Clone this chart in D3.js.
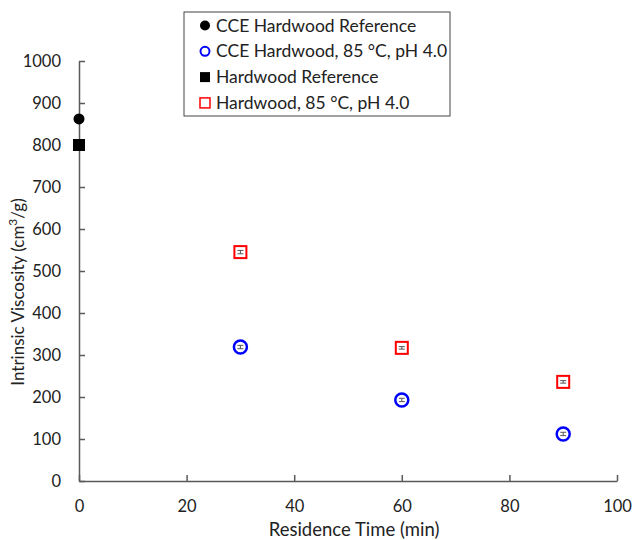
<!DOCTYPE html>
<html>
<head>
<meta charset="utf-8">
<script src="https://cdn.jsdelivr.net/npm/d3@7"></script>
<style>
  body { margin: 0; background: #fff; }
  svg text { font-family: Lato, "Open Sans", sans-serif; fill: #222; }
</style>
</head>
<body>
<svg width="634" height="540"></svg>
<script>
// data
const cceRefTime = [0];
const cceRefVisc = [862];
const hwRefTime = [0];
const hwRefVisc = [800];
const cceTime = [30, 60, 90];
const cceVisc = [319, 193, 112];
const cceErr = [4, 4, 4];
const hwTime = [30, 60, 90];
const hwVisc = [545, 317, 236];
const hwErr = [4, 3, 3];
const xTicks = [0, 20, 40, 60, 80, 100];
const yTicks = [0, 100, 200, 300, 400, 500, 600, 700, 800, 900, 1000];

const svg = d3.select("svg");
const axisColor = "#595959";

const x = d3.scaleLinear().domain([0, 100]).range([79, 617]);
const y = d3.scaleLinear().domain([0, 1000]).range([481, 61]);

// axes, ticks pointing inward
const xAxis = svg.append("g")
    .attr("transform", `translate(0,${y(0)})`)
    .call(d3.axisBottom(x).tickValues(xTicks).tickFormat(d3.format("d"))
        .tickSizeInner(-6).tickSizeOuter(0).tickPadding(19));
const yAxis = svg.append("g")
    .attr("transform", `translate(${x(0)},0)`)
    .call(d3.axisLeft(y).tickValues(yTicks).tickFormat(d3.format("d"))
        .tickSizeInner(-6).tickSizeOuter(0).tickPadding(18));

[xAxis, yAxis].forEach(a => {
    a.select(".domain").attr("stroke", axisColor).attr("stroke-width", 1.5);
    a.selectAll(".tick line").attr("stroke", axisColor).attr("stroke-width", 1.5);
    a.selectAll(".tick text").attr("font-size", 16.5).attr("font-family", "Lato, sans-serif").attr("fill", "#222");
});

svg.append("text")
    .attr("x", (x(0) + x(100)) / 2 + 6)
    .attr("y", 536)
    .attr("text-anchor", "middle")
    .attr("font-size", 18.5)
    .text("Residence Time (min)");

svg.append("text")
    .attr("transform", `translate(24,292) rotate(-90)`)
    .attr("text-anchor", "middle")
    .attr("font-size", 17)
    .html('Intrinsic Viscosity (cm<tspan baseline-shift="super" font-size="12">3</tspan>/g)');

// error bars (tiny)
function errBars(times, vals, errs) {
    const g = svg.append("g").attr("stroke", "#555").attr("stroke-width", 1);
    times.forEach((t, i) => {
        const cx = x(t);
        g.append("line").attr("x1", cx).attr("x2", cx).attr("y1", y(vals[i] - errs[i])).attr("y2", y(vals[i] + errs[i]));
        g.append("line").attr("x1", cx - 3).attr("x2", cx + 3).attr("y1", y(vals[i] - errs[i])).attr("y2", y(vals[i] - errs[i]));
        g.append("line").attr("x1", cx - 3).attr("x2", cx + 3).attr("y1", y(vals[i] + errs[i])).attr("y2", y(vals[i] + errs[i]));
    });
}

// markers
svg.append("g").selectAll("circle")
    .data(d3.zip(cceRefTime, cceRefVisc))
    .join("circle")
    .attr("cx", d => x(d[0])).attr("cy", d => y(d[1])).attr("r", 5.5)
    .attr("fill", "#000");

svg.append("g").selectAll("rect")
    .data(d3.zip(hwRefTime, hwRefVisc))
    .join("rect")
    .attr("x", d => x(d[0]) - 6).attr("y", d => y(d[1]) - 6)
    .attr("width", 12).attr("height", 12)
    .attr("fill", "#000");

svg.append("g").selectAll("circle")
    .data(d3.zip(cceTime, cceVisc))
    .join("circle")
    .attr("cx", d => x(d[0])).attr("cy", d => y(d[1])).attr("r", 6.5)
    .attr("fill", "none").attr("stroke", "#0000ff").attr("stroke-width", 2.5);
errBars(cceTime, cceVisc, cceErr);

svg.append("g").selectAll("rect")
    .data(d3.zip(hwTime, hwVisc))
    .join("rect")
    .attr("x", d => x(d[0]) - 6).attr("y", d => y(d[1]) - 6)
    .attr("width", 12).attr("height", 12)
    .attr("fill", "none").attr("stroke", "#ff0000").attr("stroke-width", 2);
errBars(hwTime, hwVisc, hwErr);

// legend
const legend = svg.append("g");
legend.append("rect")
    .attr("x", 184).attr("y", 12).attr("width", 266).attr("height", 104)
    .attr("fill", "#fff").attr("stroke", "#444").attr("stroke-width", 1);

const entries = [
    { label: "CCE Hardwood Reference", shape: "circle", fill: "#000", stroke: "none" },
    { label: "CCE Hardwood, 85 °C, pH 4.0", shape: "circle", fill: "none", stroke: "#0000ff" },
    { label: "Hardwood Reference", shape: "square", fill: "#000", stroke: "none" },
    { label: "Hardwood, 85 °C, pH 4.0", shape: "square", fill: "none", stroke: "#ff0000" }
];
entries.forEach((e, i) => {
    const cy = 25.5 + i * 25.8;
    if (e.shape === "circle") {
        legend.append("circle").attr("cx", 205).attr("cy", cy)
            .attr("r", e.fill === "none" ? 4.5 : 5)
            .attr("fill", e.fill).attr("stroke", e.stroke).attr("stroke-width", 2);
    } else {
        legend.append("rect").attr("x", 200).attr("y", cy - 5).attr("width", 10).attr("height", 10)
            .attr("fill", e.fill).attr("stroke", e.stroke).attr("stroke-width", 1.5);
    }
    legend.append("text").attr("x", 216).attr("y", cy + 6)
        .attr("font-size", 17.5).text(e.label);
});
</script>
</body>
</html>
